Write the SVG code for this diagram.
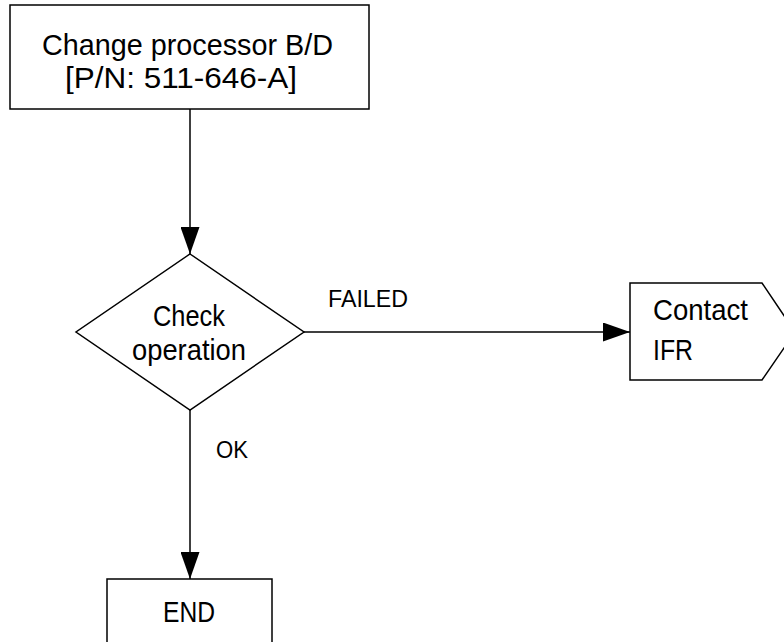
<svg xmlns="http://www.w3.org/2000/svg" width="784" height="642" viewBox="0 0 784 642">
<style>
.box{fill:#fff;stroke:#000;stroke-width:1.5}
.edge{fill:none;stroke:#000;stroke-width:1.5}
.t{font-family:"Liberation Sans",Arial,sans-serif;font-size:29px;fill:#000}
.lbl{font-family:"Liberation Sans",Arial,sans-serif;font-size:23px;fill:#000}
</style>
<defs>
<marker id="ah" viewBox="0 0 27 19" refX="27" refY="9.5" markerWidth="27" markerHeight="19" markerUnits="userSpaceOnUse" orient="auto">
<path d="M0,0 L27,9.5 L0,19 Z" fill="#000"/>
</marker>
</defs>
<rect width="784" height="642" fill="#fff"/>
<g id="connectors">
<line class="edge" x1="190" y1="109" x2="190" y2="254" marker-end="url(#ah)"/>
<line class="edge" x1="303" y1="332" x2="630" y2="332" marker-end="url(#ah)"/>
<line class="edge" x1="190" y1="410" x2="190" y2="579" marker-end="url(#ah)"/>
<text class="lbl" x="328" y="307" textLength="80" lengthAdjust="spacingAndGlyphs">FAILED</text>
<text class="lbl" x="216" y="458" textLength="32" lengthAdjust="spacingAndGlyphs">OK</text>
</g>
<g id="change">
<rect class="box" x="10" y="5" width="359" height="104"/>
<text class="t" x="42" y="55" textLength="291" lengthAdjust="spacingAndGlyphs">Change processor B/D</text>
<text class="t" x="65" y="88" textLength="232" lengthAdjust="spacingAndGlyphs">[P/N: 511-646-A]</text>
</g>
<g id="check">
<polygon class="box" points="190,254 304,332 190,410 76,332"/>
<text class="t" x="153" y="326" textLength="72" lengthAdjust="spacingAndGlyphs">Check</text>
<text class="t" x="132" y="360" textLength="114" lengthAdjust="spacingAndGlyphs">operation</text>
</g>
<g id="contact">
<polygon class="box" points="630,283 762,283 795,332 762,380 630,380"/>
<text class="t" x="653" y="320" textLength="95" lengthAdjust="spacingAndGlyphs">Contact</text>
<text class="t" x="653" y="360" textLength="40" lengthAdjust="spacingAndGlyphs">IFR</text>
</g>
<g id="end">
<rect class="box" x="107" y="579" width="165" height="80"/>
<text class="t" x="163" y="622" textLength="52" lengthAdjust="spacingAndGlyphs">END</text>
</g>
</svg>
